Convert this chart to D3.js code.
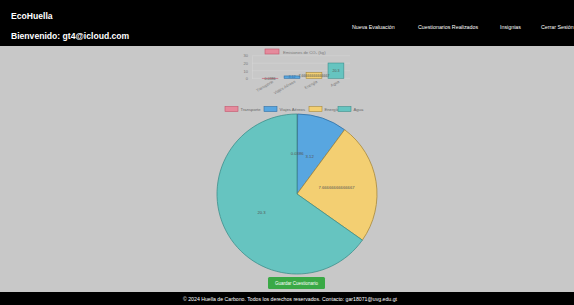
<!DOCTYPE html>
<html>
<head>
<meta charset="utf-8">
<script src="https://cdn.jsdelivr.net/npm/d3@7"></script>
<style>
  html, body { margin: 0; padding: 0; background: #c8c8c8; }
  svg { display: block; font-family: "Liberation Sans", Arial, sans-serif; }
</style>
</head>
<body>
<svg id="chart" width="574" height="305"></svg>
<script>
// data
const categories = ["Transporte", "Viajes Aéreos", "Energía", "Agua"];
const emissions = [0.0386, 3.12, 7.66666666666667, 20.3];
const yTicks = [0, 10, 20, 30];
const navLinks = ["Nueva Evaluación", "Cuestionarios Realizados", "Insignias", "Cerrar Sesión"];
const navX = [352, 418, 500, 541];

let svg = d3.select("#chart"),
    cs = {
        pallette: {
            fill: ["#e58a9c", "#58a6e0", "#f3cf72", "#66c4c0"],
            stroke: ["#c4566d", "#2f6ea3", "#a8893a", "#3e8f8c"],
            label: "#555"
        },
        bar: { left: 256, right: 350, top: 55.7, bottom: 78.3 },
        pie: { cx: 297, cy: 194, r: 80 }
    };

// header
svg.append("rect").attr("width", 574).attr("height", 46).attr("fill", "#000");
svg.append("text").attr("x", 11).attr("y", 19).attr("fill", "#fff")
    .attr("font-size", 8.6).attr("font-weight", "bold").text("EcoHuella");
svg.append("text").attr("x", 11).attr("y", 38.5).attr("fill", "#fff")
    .attr("font-size", 8.6).attr("font-weight", "bold").text("Bienvenido: gt4@icloud.com");
svg.selectAll(".nav").data(navLinks).enter().append("text")
    .attr("x", (d, i) => navX[i]).attr("y", 29)
    .attr("fill", "#fff").attr("font-size", 5.3).text(d => d);

// bar chart
cs.x = d3.scaleBand().domain(categories).range([cs.bar.left, cs.bar.right]).padding(0.28);
cs.y = d3.scaleLinear().domain([0, 30]).range([cs.bar.bottom, cs.bar.top]);

let barG = svg.append("g");
barG.selectAll(".grid").data(yTicks).enter().append("line")
    .attr("x1", cs.bar.left - 4).attr("x2", cs.bar.right)
    .attr("y1", d => cs.y(d)).attr("y2", d => cs.y(d))
    .attr("stroke", "#d6d6d6").attr("stroke-width", 0.5);

let yAxis = d3.axisLeft(cs.y).tickValues(yTicks).tickSize(0).tickPadding(4);
barG.append("g").attr("transform", "translate(" + (cs.bar.left - 4) + ",0)").call(yAxis)
    .call(g => g.select(".domain").attr("stroke", "#d6d6d6").attr("stroke-width", 0.5))
    .selectAll("text").attr("font-size", 4).attr("fill", "#777");

let xAxis = d3.axisBottom(cs.x).tickSize(0).tickPadding(3);
barG.append("g").attr("transform", "translate(0," + cs.bar.bottom + ")").call(xAxis)
    .call(g => g.select(".domain").remove())
    .selectAll("text").attr("font-size", 4).attr("fill", "#777")
    .attr("text-anchor", "end").attr("dx", "0.3em").attr("dy", "0.6em")
    .attr("transform", "rotate(-30)");

barG.selectAll(".bar").data(emissions).enter().append("rect")
    .attr("x", (d, i) => cs.x(categories[i]))
    .attr("width", cs.x.bandwidth())
    .attr("y", d => cs.y(d))
    .attr("height", d => cs.y(0) - cs.y(d))
    .attr("fill", (d, i) => cs.pallette.fill[i])
    .attr("stroke", (d, i) => cs.pallette.stroke[i]).attr("stroke-width", 0.6);

barG.selectAll(".blabel").data(emissions).enter().append("text")
    .attr("x", (d, i) => cs.x(categories[i]) + cs.x.bandwidth() / 2)
    .attr("y", d => (cs.y(d) + cs.y(0)) / 2 + 1.3)
    .attr("text-anchor", "middle").attr("font-size", 3.6)
    .attr("fill", (d, i) => i == 1 ? "#2f6ea3" : cs.pallette.label)
    .text(d => d);

// bar legend
svg.append("rect").attr("x", 265).attr("y", 49).attr("width", 14).attr("height", 5)
    .attr("fill", cs.pallette.fill[0]).attr("stroke", cs.pallette.stroke[0]).attr("stroke-width", 0.6);
svg.append("text").attr("x", 283).attr("y", 53.5).attr("font-size", 4.2).attr("fill", "#777")
    .text("Emisiones de CO₂ (kg)");

// pie legend
const legX = [225, 264, 309, 338];
let leg = svg.selectAll(".leg").data(categories).enter().append("g")
    .attr("transform", (d, i) => "translate(" + legX[i] + ",106.5)");
leg.append("rect").attr("width", 13).attr("height", 5)
    .attr("fill", (d, i) => cs.pallette.fill[i])
    .attr("stroke", (d, i) => cs.pallette.stroke[i]).attr("stroke-width", 0.6);
leg.append("text").attr("x", 15.5).attr("y", 4.3).attr("font-size", 4.2).attr("fill", "#666").text(d => d);

// pie
let pie = d3.pie().sort(null).value(d => d),
    arc = d3.arc().innerRadius(0).outerRadius(cs.pie.r),
    labelArc = d3.arc().innerRadius(cs.pie.r / 2).outerRadius(cs.pie.r / 2);
let pieG = svg.append("g").attr("transform", "translate(" + cs.pie.cx + "," + cs.pie.cy + ")");
let arcs = pie(emissions);
pieG.selectAll(".slice").data(arcs).enter().append("path")
    .attr("d", arc)
    .attr("fill", (d, i) => cs.pallette.fill[i])
    .attr("stroke", (d, i) => cs.pallette.stroke[i]).attr("stroke-width", 0.8);
pieG.selectAll(".plabel").data(arcs).enter().append("text")
    .attr("transform", d => "translate(" + labelArc.centroid(d) + ")")
    .attr("text-anchor", "middle").attr("dy", "0.35em")
    .attr("font-size", 4.2).attr("fill", cs.pallette.label)
    .text(d => d.data);

// button
svg.append("rect").attr("x", 268).attr("y", 277).attr("width", 57).attr("height", 12).attr("rx", 1.5)
    .attr("fill", "#3aa946");
svg.append("text").attr("x", 296.5).attr("y", 285).attr("text-anchor", "middle")
    .attr("font-size", 4.5).attr("fill", "#fff").text("Guardar Cuestionario");

// footer
svg.append("rect").attr("y", 292).attr("width", 574).attr("height", 13).attr("fill", "#000");
svg.append("text").attr("x", 290).attr("y", 301).attr("text-anchor", "middle")
    .attr("font-size", 5.2).attr("fill", "#fff")
    .text("© 2024 Huella de Carbono. Todos los derechos reservados. Contacto: gar18071@uvg.edu.gt");
</script>
</body>
</html>
